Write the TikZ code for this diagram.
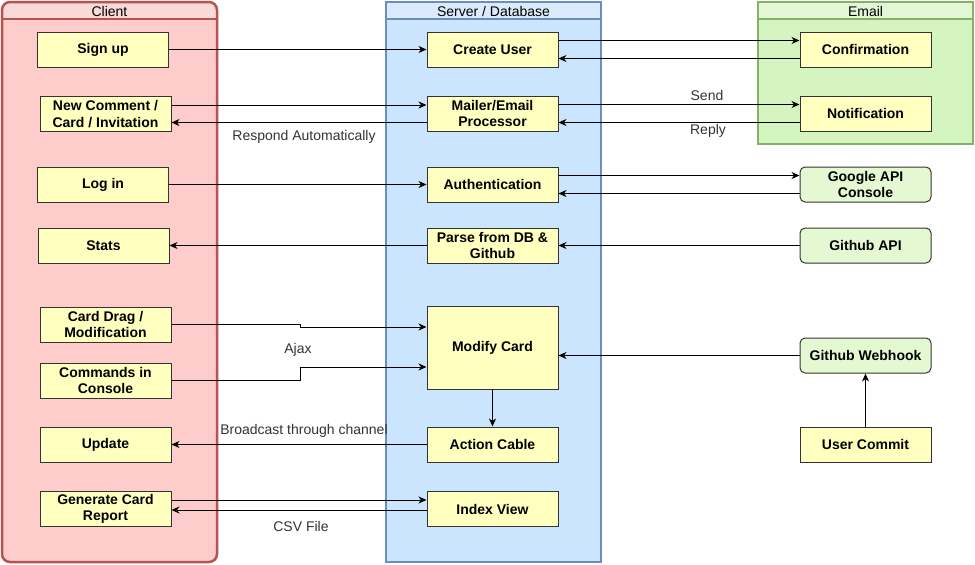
\documentclass[tikz,border=0pt]{standalone}
\usepackage{fontspec}
\setmainfont{Liberation Sans}
\usetikzlibrary{arrows.meta}
\definecolor{boxfill}{HTML}{FFFFC0}
\definecolor{apifill}{HTML}{E4F9D2}
\definecolor{clientline}{HTML}{B85450}
\definecolor{clientbody}{HTML}{FFCCCC}
\definecolor{clienthead}{HTML}{FAD9D9}
\definecolor{serverline}{HTML}{6C8EBF}
\definecolor{serverbody}{HTML}{CCE5FF}
\definecolor{serverhead}{HTML}{DCEBFC}
\definecolor{emailline}{HTML}{82B366}
\definecolor{emailbody}{HTML}{D5F5C0}
\definecolor{emailhead}{HTML}{E3F7D6}
\tikzset{box/.style={draw=black!80, fill=boxfill, line width=1pt, minimum width=131pt, minimum height=35pt,
    inner sep=1pt, align=center, font=\fontsize{14}{16.5}\selectfont\bfseries}}
\tikzset{api/.style={box, fill=apifill, rounded corners=5pt}}
\tikzset{arr/.style={line width=1pt, -{Stealth[length=8pt,width=7pt,inset=2.5pt]}}}
\tikzset{lbl/.style={text=black!80, font=\fontsize{14}{16.5}\selectfont, inner sep=1pt}}
\tikzset{head/.style={font=\fontsize{14}{16.5}\selectfont, inner sep=0pt}}
\begin{document}
\begin{tikzpicture}[x=1pt, y=-1pt]
  \useasboundingbox (0,0) rectangle (975,565);
  % Lanes
  \begin{scope}
    \clip[rounded corners=8pt] (2,2) rectangle (217,562);
    \fill[clientbody] (2,2) rectangle (217,562);
    \fill[clienthead] (2,2) rectangle (217,19);
  \end{scope}
  \draw[clientline, line width=2.5pt] (2,19) -- (217,19);
  \draw[clientline, line width=2.5pt, rounded corners=8pt] (2,2) rectangle (217,562);
  \node[head] (client) at (109.5,11) {Client};
  \fill[serverbody] (386,2) rectangle (601,562);
  \fill[serverhead] (386,2) rectangle (601,19);
  \draw[serverline, line width=2.5pt] (386,19) -- (601,19);
  \draw[serverline, line width=2.5pt] (386,2) rectangle (601,562);
  \node[head] (server) at (493.5,11) {Server / Database};
  \fill[emailbody] (758,2) rectangle (973,144);
  \fill[emailhead] (758,2) rectangle (973,19);
  \draw[emailline, line width=2.5pt] (758,19) -- (973,19);
  \draw[emailline, line width=2.5pt] (758,2) rectangle (973,144);
  \node[head] (email) at (865.5,11) {Email};
  % Client side
  \node[box] (signup) at (103,49.5) {Sign up};
  \node[box] (comment) at (105.5,114) {New Comment /\\Card / Invitation};
  \node[box] (login) at (103,184.5) {Log in};
  \node[box] (stats) at (103.5,245.5) {Stats};
  \node[box] (drag) at (105.5,324.5) {Card Drag /\\Modification};
  \node[box] (console) at (105.5,380.5) {Commands in\\Console};
  \node[box] (update) at (105.5,444.5) {Update};
  \node[box] (report) at (105.5,509) {Generate Card\\Report};
  % Server side
  \node[box] (create) at (492.5,49.5) {Create User};
  \node[box] (mailer) at (492.5,113.5) {Mailer/Email\\Processor};
  \node[box] (auth) at (492.5,184.5) {Authentication};
  \node[box] (parse) at (492.5,245.5) {Parse from DB \&\\Github};
  \node[box, minimum height=83pt] (modify) at (492.5,347.5) {Modify Card};
  \node[box] (cable) at (492.5,444.5) {Action Cable};
  \node[box] (index) at (492.5,509) {Index View};
  % External
  \node[box] (confirm) at (865.5,49.5) {Confirmation};
  \node[box] (notify) at (865.5,113.5) {Notification};
  \node[api] (google) at (865.5,184.5) {Google API\\Console};
  \node[api] (ghapi) at (865.5,245.5) {Github API};
  \node[api] (hook) at (865.5,355.5) {Github Webhook};
  \node[box] (commit) at (865.5,444.5) {User Commit};
  % Connectors
  \draw[arr] (signup.east) -- (create.west);
  \draw[arr] ([yshift=9pt]comment.east) -- ([yshift=9pt]comment.east -| mailer.west);
  \draw[arr] ([yshift=-9pt]mailer.west) -- ([yshift=-9pt]mailer.west -| comment.east);
  \draw[arr] (login.east) -- (auth.west);
  \draw[arr] (parse.west) -- (stats.east);
  \draw[arr] ([yshift=9pt]create.east) -- ([yshift=9pt]confirm.west);
  \draw[arr] ([yshift=-9pt]confirm.west) -- ([yshift=-9pt]create.east);
  \draw[arr] ([yshift=9pt]mailer.east) -- ([yshift=9pt]notify.west);
  \draw[arr] ([yshift=-9pt]notify.west) -- ([yshift=-9pt]mailer.east);
  \draw[arr] ([yshift=9pt]auth.east) -- ([yshift=9pt]google.west);
  \draw[arr] ([yshift=-9pt]google.west) -- ([yshift=-9pt]auth.east);
  \draw[arr] (ghapi.west) -- (parse.east);
  \coordinate (ajaxbend) at (300,0);
  \draw[arr] (drag.east) -- (drag.east -| ajaxbend) |- ([yshift=20.5pt]modify.west);
  \draw[arr] (console.east) -- (console.east -| ajaxbend) |- ([yshift=-19.5pt]modify.west);
  \draw[arr] (modify.south) -- (cable.north);
  \draw[arr] (cable.west) -- (update.east);
  \draw[arr] ([yshift=9pt]report.east) -- ([yshift=9pt]index.west);
  \draw[arr] ([yshift=-1pt]index.west) -- ([yshift=-1pt]report.east);
  \draw[arr] (hook.west) -- (hook.west -| modify.east);
  \draw[arr] (commit.north) -- (hook.south);
  % Labels
  \node[lbl] (respond) at (304,137) {Respond Automatically};
  \node[lbl] (send) at (707,95) {Send};
  \node[lbl] (reply) at (708,131) {Reply};
  \node[lbl] (ajax) at (298,350) {Ajax};
  \node[lbl] (broadcast) at (304,431) {Broadcast through channel};
  \node[lbl] (csv) at (301,526) {CSV File};
\end{tikzpicture}
\end{document}
